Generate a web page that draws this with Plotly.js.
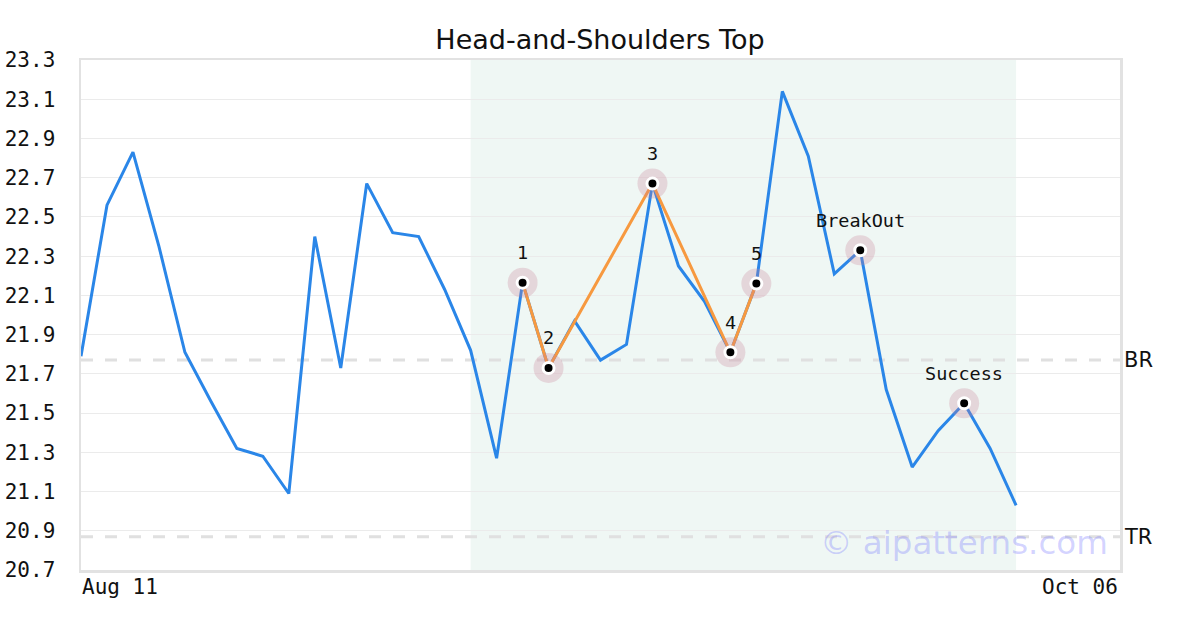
<!DOCTYPE html>
<html>
<head>
<meta charset="utf-8">
<script src="https://cdn.plot.ly/plotly-3.0.1.min.js"></script>
<style>html,body{margin:0;padding:0;background:#fff}#chart{width:1200px;height:630px}</style>
</head>
<body>
<div id="chart"></div>
<script>
// ---- data ----
const closes = [21.79, 22.56, 22.83, 22.35, 21.81, 21.56, 21.32, 21.28, 21.09, 22.40,
                21.73, 22.67, 22.42, 22.40, 22.13, 21.82, 21.27, 22.165, 21.73, 21.97,
                21.77, 21.85, 22.67, 22.25, 22.07, 21.81, 22.16, 23.14, 22.81, 22.21,
                22.33, 21.62, 21.225, 21.41, 21.55, 21.32, 21.03];
const patternIdx = [17, 18, 22, 25, 26];
const patternLabels = ["1", "2", "3", "4", "5"];
const eventIdx = [30, 34];
const eventLabels = ["BreakOut", "Success"];
const zoneStart = 15;
const zoneEnd = 36;
const levelNames = ["BR", "TR"];
const levelValues = [21.77, 20.87];
const tickIdx = [0, 40];
const tickLabels = ["Aug 11", "Oct 06"];
const yMin = 20.7, yMax = 23.3, yStep = 0.2;
const chartTitle = "Head-and-Shoulders Top";
const watermark = "\u00A9 aipatterns.com";

// ---- build ----
const xs = closes.map((_, i) => i);
const keyIdx = patternIdx.concat(eventIdx);
const keyLabels = patternLabels.concat(eventLabels);

const traces = [
  {x: xs, y: closes, type: 'scatter', mode: 'lines',
   line: {color: '#2a86e8', width: 3}, hoverinfo: 'skip'},
  {x: patternIdx, y: patternIdx.map(i => closes[i]), type: 'scatter', mode: 'lines',
   line: {color: '#f7993f', width: 3}, hoverinfo: 'skip'},
  {x: keyIdx, y: keyIdx.map(i => closes[i]), type: 'scatter', mode: 'markers',
   marker: {size: 30, color: 'rgba(200,130,150,0.28)', line: {width: 0}}, hoverinfo: 'skip'},
  {x: keyIdx, y: keyIdx.map(i => closes[i]), type: 'scatter', mode: 'markers',
   marker: {size: 11, color: '#000', line: {width: 3, color: '#fff'}}, hoverinfo: 'skip'}
];

const shapes = [
  {type: 'rect', xref: 'x', yref: 'paper', x0: zoneStart, x1: zoneEnd, y0: 0, y1: 1,
   fillcolor: '#eff7f4', line: {width: 0}, layer: 'below'}
];
levelValues.forEach(v => shapes.push({
  type: 'line', xref: 'paper', yref: 'y', x0: 0, x1: 1, y0: v, y1: v,
  line: {color: '#e0e0e0', width: 3, dash: '12px,12px'}, layer: 'between'
}));

const annotations = [];
keyIdx.forEach((i, k) => annotations.push({
  x: i, y: closes[i], xref: 'x', yref: 'y', text: keyLabels[k], showarrow: false,
  yshift: 30, font: {family: 'DejaVu Sans Mono', size: 18.5, color: '#111'}
}));
levelValues.forEach((v, k) => annotations.push({
  x: 1, y: v, xref: 'paper', yref: 'y', text: levelNames[k], showarrow: false,
  xanchor: 'left', xshift: 2, font: {family: 'DejaVu Sans', size: 21, color: '#111'}
}));
tickIdx.forEach((t, k) => annotations.push({
  x: t, y: 0, xref: 'x', yref: 'paper', text: tickLabels[k], showarrow: false,
  xanchor: k === 0 ? 'left' : 'right', yanchor: 'top', yshift: -3,
  xshift: k === 0 ? -1 : 0,
  font: {family: 'DejaVu Sans Mono', size: 21, color: '#111'}
}));
annotations.push({
  x: 0.99, y: 0.053, xref: 'paper', yref: 'paper', text: watermark, showarrow: false,
  xanchor: 'right', yanchor: 'middle',
  font: {family: 'DejaVu Sans', size: 32.5, color: 'rgba(120,120,255,0.33)'}
});

const layout = {
  width: 1200, height: 630,
  margin: {l: 81, r: 80, t: 60, b: 60},
  paper_bgcolor: '#fff', plot_bgcolor: '#fff',
  showlegend: false,
  title: {text: chartTitle, x: 0.5, xanchor: 'center', y: 1 - 40 / 630, yanchor: 'middle',
          yref: 'container', font: {family: 'DejaVu Sans', size: 27, color: '#111'}},
  xaxis: {range: [0, 40], showticklabels: false, showgrid: false, zeroline: false,
          showline: true, mirror: true, linecolor: '#e2e2e2', linewidth: 2.5, ticks: ''},
  yaxis: {range: [yMin, yMax], tick0: yMin, dtick: yStep, tickformat: '.1f',
          showgrid: true, gridcolor: '#ebebeb', gridwidth: 1, zeroline: false,
          showline: true, mirror: true, linecolor: '#e2e2e2', linewidth: 2.5,
          ticks: 'outside', ticklen: 19, tickcolor: 'rgba(0,0,0,0)',
          tickfont: {family: 'DejaVu Sans Mono', size: 21, color: '#111'}},
  shapes: shapes,
  annotations: annotations
};

Plotly.newPlot('chart', traces, layout, {staticPlot: true, displayModeBar: false});
</script>
</body>
</html>
